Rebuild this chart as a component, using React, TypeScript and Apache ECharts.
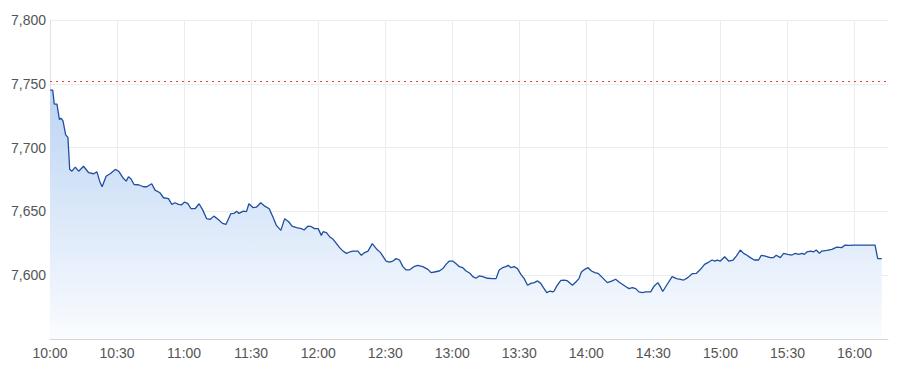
import React, { useEffect, useRef } from "react";
import * as echarts from "echarts";

// minutes after 10:00
const minutes = [
  0, 1.2, 1.9, 3.1, 4.2, 4.9, 5.8, 7.0, 8.0, 8.8, 9.8, 11.3, 12.8, 15.0, 17.3, 19.5, 21.0, 22.2, 23.3, 25.1,
  26.9, 29.2, 30.7, 32.6, 34.1, 35.1, 36.2, 37.6, 39.6, 41.8, 43.3, 45.5, 47.0, 49.2, 50.8, 53.0, 54.5, 55.9,
  57.5, 58.9, 60.1, 61.6, 63.1, 64.9, 66.7, 68.2, 70.1, 71.6, 73.3, 75.3, 77.2, 78.7, 80.9, 82.3, 83.5, 84.5,
  86.5, 87.9, 89.0, 90.9, 92.4, 94.3, 96.1, 98.1, 99.9, 101.3, 103.3, 105.0, 106.8, 108.3, 110.3, 112.5, 113.7,
  115.5, 117.0, 118.4, 120.0, 121.4, 122.2, 123.7, 125.1, 126.7, 128.1, 129.6, 131.1, 132.6, 134.1, 135.6,
  137.8, 139.3, 140.8, 142.3, 144.2, 146.0, 147.9, 150.4, 151.9, 153.4, 154.9, 156.4, 157.9, 159.4, 160.8,
  162.8, 164.6, 166.8, 169.1, 170.5, 172.0, 174.2, 175.8, 177.2, 178.7, 180.2, 182.0, 183.2, 184.7, 186.2,
  187.9, 189.2, 190.6, 192.1, 193.6, 195.8, 198.1, 199.6, 201.0, 202.5, 204.0, 205.0, 206.3, 207.7, 209.2,
  210.7, 212.2, 213.7, 215.2, 216.7, 218.2, 219.6, 220.8, 222.3, 223.8, 224.9, 225.6, 226.8, 228.6, 230.4,
  231.6, 233.8, 235.3, 236.7, 237.8, 239.3, 240.8, 242.3, 243.8, 245.2, 247.2, 249.4, 251.6, 253.1, 254.6,
  256.1, 257.6, 259.1, 260.6, 262.1, 263.5, 265.0, 266.5, 268.8, 270.2, 272.0, 272.9, 274.2, 276.2, 278.4,
  280.4, 282.1, 283.6, 285.4, 287.4, 289.3, 291.1, 292.9, 294.8, 296.3, 297.5, 298.5, 300.0, 301.9, 303.7,
  305.7, 307.1, 308.9, 310.4, 311.9, 313.4, 315.2, 317.1, 318.3, 320.1, 322.3, 323.8, 325.0, 326.8, 328.3,
  330.0, 332.0, 333.5, 335.0, 336.5, 337.6, 338.7, 340.5, 341.6, 342.9, 344.3, 345.4, 347.6, 349.9, 352.1,
  354.3, 355.8, 357.7, 360.3, 369.2, 370.4, 372.2,
];

const prices = [
  7745, 7745, 7734, 7734, 7722, 7723, 7721, 7710, 7708, 7683, 7681.5, 7684.7, 7681.5, 7685.4, 7680.3, 7679.5,
  7681, 7673.7, 7669.3, 7677.6, 7679.5, 7682.9, 7681.5, 7676.4, 7673.7, 7677.1, 7675.6, 7671.1, 7670.9, 7669.3,
  7669.3, 7671.7, 7666.7, 7664.6, 7660.7, 7660, 7655.5, 7656.8, 7655.5, 7655.2, 7657.3, 7656.3, 7652.1, 7652.1,
  7656, 7651.6, 7644.3, 7643.7, 7646.3, 7643.7, 7640.6, 7639.8, 7648.2, 7648.4, 7650.2, 7648.4, 7650.2, 7649.8,
  7656, 7652.9, 7653.4, 7656.8, 7654.1, 7652.1, 7645, 7639, 7635.1, 7644.3, 7641.9, 7638.5, 7637.2, 7636.5,
  7635.4, 7638.5, 7638, 7636.5, 7636.5, 7631.2, 7634.1, 7633.3, 7630.2, 7628.1, 7625, 7621.6, 7618.9, 7617.1,
  7618.2, 7618.9, 7618.9, 7615.6, 7617.7, 7618.9, 7624.7, 7620.8, 7617.7, 7611.1, 7610.3, 7611.1, 7613, 7611.9,
  7606.7, 7604.1, 7604.1, 7606.7, 7607.7, 7606.7, 7604.6, 7602, 7602.5, 7603.3, 7605.2, 7608.5, 7611.1, 7611.1,
  7608.5, 7606.7, 7605.9, 7603.3, 7601.5, 7598.9, 7597.6, 7599.4, 7598.9, 7597.6, 7597.3, 7597.3, 7604.1,
  7605.9, 7606.7, 7607.7, 7605.9, 7606.7, 7605.2, 7600.7, 7597.3, 7592.1, 7593.6, 7594.2, 7595.5, 7593.6,
  7590.3, 7586.4, 7587.6, 7586.9, 7587.6, 7591.6, 7596, 7596.2, 7595.5, 7592.1, 7594.7, 7597.3, 7602.5, 7604.6,
  7605.9, 7603.3, 7602, 7601.5, 7598.1, 7594.2, 7595.5, 7596.8, 7594.7, 7592.9, 7591.1, 7589.5, 7590.3, 7589.5,
  7586.9, 7586.4, 7586.9, 7586.9, 7591.1, 7594.2, 7591.6, 7587.2, 7592.9, 7598.9, 7597.3, 7596.8, 7596.2,
  7598.1, 7601.2, 7601.5, 7604.6, 7608.5, 7610.3, 7611.9, 7611.1, 7611.9, 7611.1, 7614.5, 7611.1, 7611.9, 7615,
  7619.7, 7617.1, 7615.6, 7613.8, 7611.9, 7611.9, 7615.6, 7615, 7613.8, 7613.8, 7615.6, 7613.8, 7617.1, 7616.3,
  7615.8, 7617.1, 7616.3, 7617.1, 7616.3, 7618.2, 7618.9, 7618.2, 7619.7, 7617.1, 7618.9, 7619.5, 7620.3, 7622,
  7621.6, 7623.6, 7623.4, 7623.6, 7623.6, 7613, 7613,
];

const previousClose = 7752;
const yTicks = [7550, 7600, 7650, 7700, 7750, 7800];
const sessionStartHour = 10;
const sessionLengthMin = 375;

function fmtTime(v: number): string {
  const h = sessionStartHour + Math.floor(v / 60);
  const m = Math.round(v % 60);
  return `${h}:${m < 10 ? "0" + m : m}`;
}

export default function App() {
  const ref = useRef<HTMLDivElement>(null);
  useEffect(() => {
    if (!ref.current) return;
    const chart = echarts.init(ref.current, undefined, { renderer: "svg" });
    const data = minutes.map((m, i) => [m, prices[i]]);
    const font = "Arial, 'Liberation Sans', sans-serif";
    chart.setOption({
      animation: false,
      grid: { left: 40, right: 20, top: 12, bottom: 44, containLabel: false },
      xAxis: {
        type: "value",
        min: 0,
        max: sessionLengthMin,
        interval: 30,
        axisLine: { show: true, lineStyle: { color: "#d6d6d6" } },
        axisTick: { show: false },
        axisLabel: {
          color: "#555",
          fontSize: 14,
          fontFamily: font,
          margin: 7,
          showMaxLabel: false,
          formatter: (v: number) => (v % 30 === 0 ? fmtTime(v) : ""),
        },
        splitLine: { show: true, showMaxLine: false, lineStyle: { color: "#ececec" } },
      },
      yAxis: {
        type: "value",
        min: yTicks[0],
        max: yTicks[yTicks.length - 1],
        interval: 50,
        axisLine: { show: true, lineStyle: { color: "#e2e2e2" } },
        axisTick: { show: false },
        axisLabel: {
          color: "#555",
          fontSize: 14,
          fontFamily: font,
          margin: 4,
          showMinLabel: false,
          formatter: (v: number) => v.toLocaleString("en-US"),
        },
        splitLine: { show: true, lineStyle: { color: "#ececec" } },
      },
      series: [
        {
          type: "line",
          data,
          showSymbol: false,
          symbol: "none",
          lineStyle: { color: "#1f4f9d", width: 1.3 },
          areaStyle: {
            opacity: 1,
            color: new echarts.graphic.LinearGradient(0, 0, 0, 1, [
              { offset: 0, color: "#bcd4f3" },
              { offset: 1, color: "#fafcff" },
            ]),
          },
          markLine: {
            silent: true,
            symbol: "none",
            label: { show: false },
            lineStyle: { color: "#e0443e", type: [2, 4], width: 1, opacity: 1 },
            data: [{ yAxis: previousClose, lineStyle: { color: "#e0443e", type: [2, 4], width: 1 } }],
          },
        },
      ],
    });
    return () => chart.dispose();
  }, []);
  return <div ref={ref} style={{ width: 900, height: 375 }} />;
}
